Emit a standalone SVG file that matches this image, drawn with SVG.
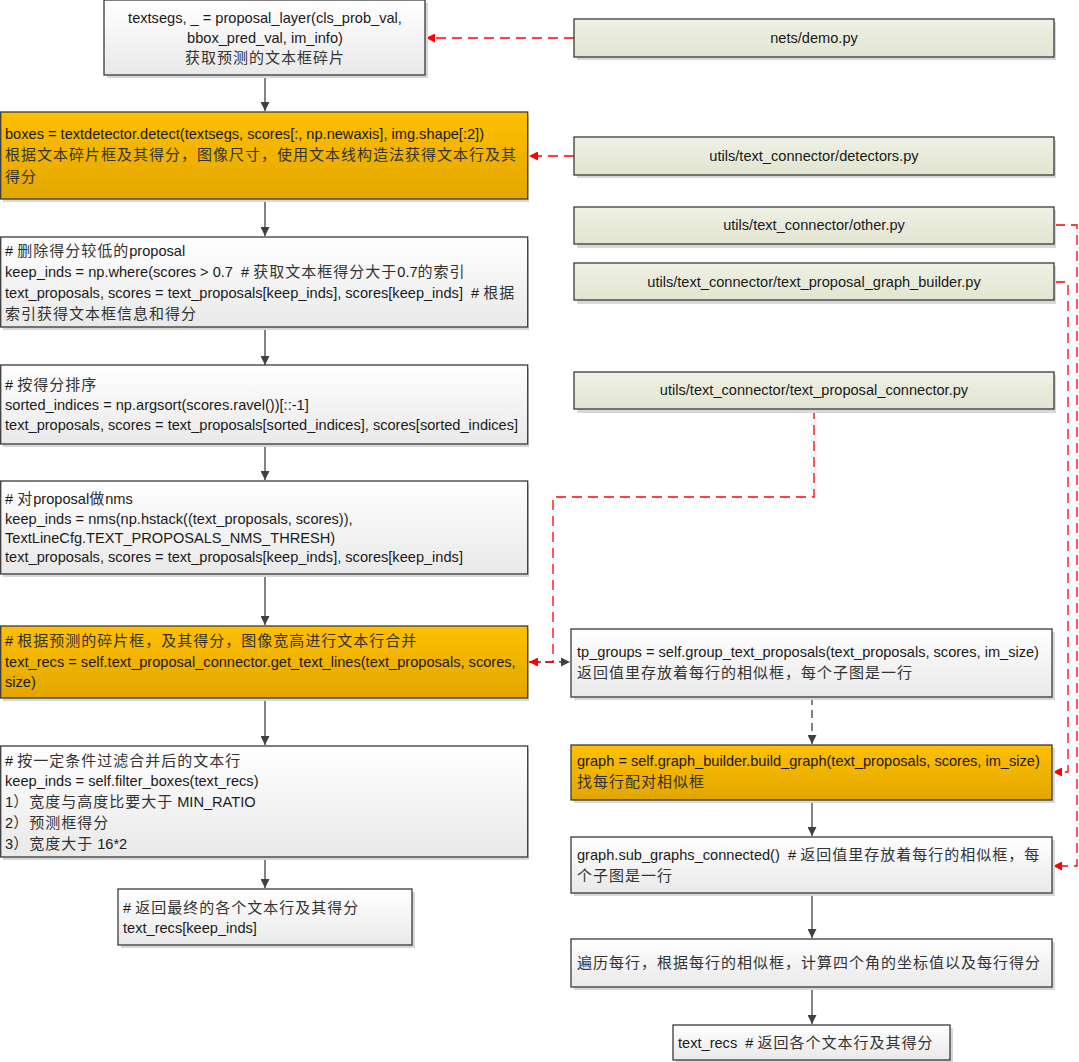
<svg xmlns="http://www.w3.org/2000/svg" width="1079" height="1062" viewBox="0 0 1079 1062">
<defs>
<linearGradient id="gw" x1="0" y1="0" x2="0" y2="1"><stop offset="0" stop-color="#ffffff"/><stop offset="1" stop-color="#e9e9e9"/></linearGradient>
<linearGradient id="go" x1="0" y1="0" x2="0" y2="1"><stop offset="0" stop-color="#ffc000"/><stop offset="1" stop-color="#e2a600"/></linearGradient>
<linearGradient id="gg" x1="0" y1="0" x2="0" y2="1"><stop offset="0" stop-color="#eff1e5"/><stop offset="1" stop-color="#e1e5d0"/></linearGradient>
<marker id="ad" markerUnits="userSpaceOnUse" markerWidth="10" markerHeight="9" refX="9" refY="4.5" orient="auto"><path d="M0,0 L9,4.5 L0,9 z" fill="#404040"/></marker>
<marker id="ar" markerUnits="userSpaceOnUse" markerWidth="10" markerHeight="9" refX="9" refY="4.5" orient="auto"><path d="M0,0 L9,4.5 L0,9 z" fill="#ff0000"/></marker>
</defs>
<style>
.b{stroke:#3a3a3a;stroke-width:1.3}
.w{fill:url(#gw)}
.o{fill:url(#go)}
.g{fill:url(#gg)}
.sh{fill:#d8d8d8}
text{font-family:"Liberation Sans","Noto Sans CJK SC",sans-serif;font-size:14.6px;fill:#1a1a1a;white-space:pre}
.c{font-family:"Noto Sans CJK SC",sans-serif;font-size:15px;letter-spacing:1px;fill:#333}
.m{text-anchor:middle}
.s{fill:none;stroke:#404040;stroke-width:1.3}
.sd{fill:none;stroke:#404040;stroke-width:1.3;stroke-dasharray:8 5}
.r{fill:none;stroke:#ff0000;stroke-width:1.3;stroke-dasharray:10 6}
</style>
<rect width="1079" height="1062" fill="#ffffff"/>

<g id="connectors">
<path class="s" d="M265 75 V111" marker-end="url(#ad)"/>
<path class="s" d="M265 199 V236" marker-end="url(#ad)"/>
<path class="s" d="M265 327 V365" marker-end="url(#ad)"/>
<path class="s" d="M265 444 V480" marker-end="url(#ad)"/>
<path class="s" d="M265 574 V625" marker-end="url(#ad)"/>
<path class="s" d="M265 698 V745" marker-end="url(#ad)"/>
<path class="s" d="M265 857 V888" marker-end="url(#ad)"/>
<path class="s" d="M812 800 V836" marker-end="url(#ad)"/>
<path class="s" d="M812 893 V938" marker-end="url(#ad)"/>
<path class="s" d="M812 987 V1024" marker-end="url(#ad)"/>
<path class="sd" d="M812 697 V744" marker-end="url(#ad)"/>
<path class="sd" d="M533 662 H570" marker-end="url(#ad)"/>
<path class="r" d="M574 38 H426" marker-end="url(#ar)"/>
<path class="r" d="M574 156 H529" marker-end="url(#ar)"/>
<path class="r" d="M814 409 V497 H553 V662 H529" marker-end="url(#ar)"/>
<path class="r" d="M1055 225 H1077 V866 H1053" marker-end="url(#ar)"/>
<path class="r" d="M1055 282 H1068 V772 H1053" marker-end="url(#ar)"/>
</g>

<g id="n1">
<rect class="sh" x="107" y="3" width="321" height="75"/>
<rect class="b w" x="104" y="0" width="321" height="75"/>
<text class="m" x="265" y="23">textsegs, _ = proposal_layer(cls_prob_val,</text>
<text class="m" x="265" y="43">bbox_pred_val, im_info)</text>
<text class="m" x="265" y="63"><tspan class="c">获取预测的文本框碎片</tspan></text>
</g>

<g id="n2">
<rect class="sh" x="3" y="115" width="526" height="87"/>
<rect class="b o" x="0.7" y="112" width="527" height="87"/>
<text x="5" y="139">boxes = textdetector.detect(textsegs, scores[:, np.newaxis], img.shape[:2])</text>
<text x="5" y="160"><tspan class="c">根据文本碎片框及其得分，图像尺寸，使用文本线构造法获得文本行及其</tspan></text>
<text x="5" y="182"><tspan class="c">得分</tspan></text>
</g>

<g id="n3">
<rect class="sh" x="3" y="240" width="526" height="90"/>
<rect class="b w" x="0.7" y="237" width="527" height="90"/>
<text x="5" y="256"># <tspan class="c">删除得分较低的</tspan>proposal</text>
<text x="5" y="277">keep_inds = np.where(scores &gt; 0.7  # <tspan class="c">获取文本框得分大于</tspan>0.7<tspan class="c">的索引</tspan></text>
<text x="5" y="298">text_proposals, scores = text_proposals[keep_inds], scores[keep_inds]  # <tspan class="c">根据</tspan></text>
<text x="5" y="319"><tspan class="c">索引获得文本框信息和得分</tspan></text>
</g>

<g id="n4">
<rect class="sh" x="3" y="368" width="526" height="79"/>
<rect class="b w" x="0.7" y="365" width="527" height="79"/>
<text x="5" y="390"># <tspan class="c">按得分排序</tspan></text>
<text x="5" y="410">sorted_indices = np.argsort(scores.ravel())[::-1]</text>
<text x="5" y="430">text_proposals, scores = text_proposals[sorted_indices], scores[sorted_indices]</text>
</g>

<g id="n5">
<rect class="sh" x="3" y="484" width="526" height="93"/>
<rect class="b w" x="0.7" y="481" width="527" height="93"/>
<text x="5" y="504"># <tspan class="c">对</tspan>proposal<tspan class="c">做</tspan>nms</text>
<text x="5" y="524">keep_inds = nms(np.hstack((text_proposals, scores)),</text>
<text x="5" y="543">TextLineCfg.TEXT_PROPOSALS_NMS_THRESH)</text>
<text x="5" y="562">text_proposals, scores = text_proposals[keep_inds], scores[keep_inds]</text>
</g>

<g id="n6">
<rect class="sh" x="3" y="629" width="526" height="72"/>
<rect class="b o" x="0.7" y="626" width="527" height="72"/>
<text x="5" y="646"># <tspan class="c">根据预测的碎片框，及其得分，图像宽高进行文本行合并</tspan></text>
<text x="5" y="667">text_recs = self.text_proposal_connector.get_text_lines(text_proposals, scores,</text>
<text x="5" y="687">size)</text>
</g>

<g id="n7">
<rect class="sh" x="3" y="749" width="526" height="111"/>
<rect class="b w" x="0.7" y="746" width="527" height="111"/>
<text x="5" y="766"># <tspan class="c">按一定条件过滤合并后的文本行</tspan></text>
<text x="5" y="786">keep_inds = self.filter_boxes(text_recs)</text>
<text x="5" y="807">1<tspan class="c">）宽度与高度比要大于</tspan> MIN_RATIO</text>
<text x="5" y="828">2<tspan class="c">）预测框得分</tspan></text>
<text x="5" y="849">3<tspan class="c">）宽度大于</tspan> 16*2</text>
</g>

<g id="n8">
<rect class="sh" x="121" y="892" width="294" height="56"/>
<rect class="b w" x="118" y="889" width="294" height="56"/>
<text x="123" y="913"># <tspan class="c">返回最终的各个文本行及其得分</tspan></text>
<text x="123" y="933">text_recs[keep_inds]</text>
</g>

<g id="f1">
<rect class="sh" x="577" y="22" width="479" height="38"/>
<rect class="b g" x="574" y="19" width="480" height="38"/>
<text class="m" x="814" y="43">nets/demo.py</text>
</g>

<g id="f2">
<rect class="sh" x="577" y="140" width="479" height="38"/>
<rect class="b g" x="574" y="137" width="480" height="38"/>
<text class="m" x="814" y="161">utils/text_connector/detectors.py</text>
</g>

<g id="f3">
<rect class="sh" x="577" y="210" width="479" height="38"/>
<rect class="b g" x="574" y="207" width="480" height="37"/>
<text class="m" x="814" y="230">utils/text_connector/other.py</text>
</g>

<g id="f4">
<rect class="sh" x="577" y="266" width="479" height="38"/>
<rect class="b g" x="574" y="263" width="480" height="37"/>
<text class="m" x="814" y="287">utils/text_connector/text_proposal_graph_builder.py</text>
</g>

<g id="f5">
<rect class="sh" x="577" y="375" width="479" height="38"/>
<rect class="b g" x="574" y="372" width="480" height="37"/>
<text class="m" x="814" y="395">utils/text_connector/text_proposal_connector.py</text>
</g>

<g id="r1">
<rect class="sh" x="574" y="632" width="481" height="68"/>
<rect class="b w" x="571" y="629" width="481" height="68"/>
<text x="577" y="657">tp_groups = self.group_text_proposals(text_proposals, scores, im_size)</text>
<text x="577" y="678"><tspan class="c">返回值里存放着每行的相似框，每个子图是一行</tspan></text>
</g>

<g id="r2">
<rect class="sh" x="574" y="748" width="481" height="55"/>
<rect class="b o" x="571" y="745" width="481" height="55"/>
<text x="577" y="766">graph = self.graph_builder.build_graph(text_proposals, scores, im_size)</text>
<text x="577" y="787"><tspan class="c">找每行配对相似框</tspan></text>
</g>

<g id="r3">
<rect class="sh" x="574" y="840" width="481" height="56"/>
<rect class="b w" x="571" y="837" width="481" height="56"/>
<text x="577" y="860">graph.sub_graphs_connected()  # <tspan class="c">返回值里存放着每行的相似框，每</tspan></text>
<text x="577" y="881"><tspan class="c">个子图是一行</tspan></text>
</g>

<g id="r4">
<rect class="sh" x="574" y="942" width="481" height="48"/>
<rect class="b w" x="571" y="939" width="481" height="48"/>
<text x="577" y="968"><tspan class="c">遍历每行，根据每行的相似框，计算四个角的坐标值以及每行得分</tspan></text>
</g>

<g id="r5">
<rect class="sh" x="676" y="1028" width="277" height="35"/>
<rect class="b w" x="673" y="1025" width="277" height="35"/>
<text x="678" y="1048">text_recs  # <tspan class="c">返回各个文本行及其得分</tspan></text>
</g>
</svg>
